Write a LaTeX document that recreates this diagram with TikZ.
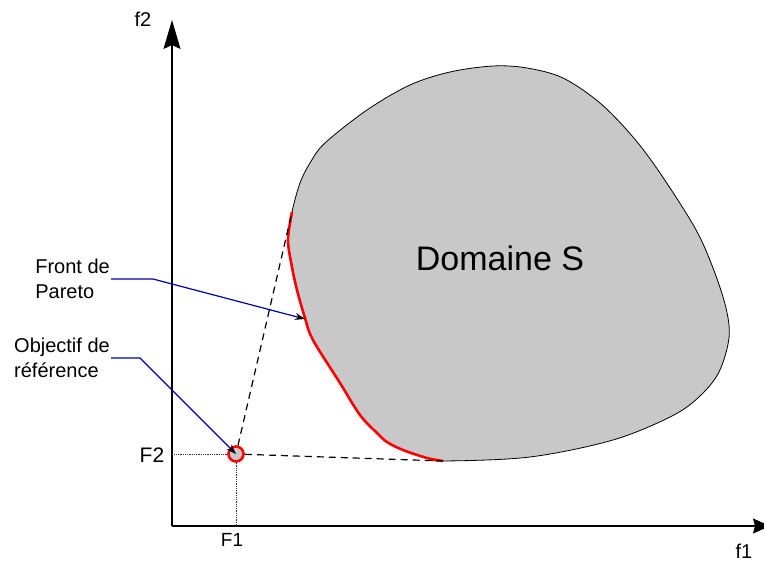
\documentclass[tikz,border=0pt]{standalone}
\usepackage{fontspec}
\setmainfont{Liberation Sans}
\usetikzlibrary{arrows.meta, positioning}
\definecolor{domgray}{RGB}{200,200,200}
\definecolor{lblue}{RGB}{0,0,170}

\begin{document}
\begin{tikzpicture}[
    x=1pt, y=-1pt,
    >=Stealth,
    axis/.style={line width=1.4pt, -{Stealth[length=29pt, width=17pt, inset=4pt]}},
    xaxis/.style={line width=1.4pt, -{Stealth[length=17pt, width=15pt, inset=2pt]}},
    guide/.style={densely dotted, line width=0.8pt, black!80},
    link/.style={dashed, dash pattern=on 7pt off 5pt, line width=1.2pt},
    callout/.style={draw=lblue, line width=1.2pt, -{Stealth[black, length=10pt, width=7pt]}},
    refpt/.style={circle, draw=red, fill=domgray, line width=2.6pt, minimum size=15pt, inner sep=0pt},
    lbl/.style={font=\fontsize{20}{25}\selectfont, inner sep=1pt},
    note/.style={lbl, align=left, anchor=east}
]
\clip (0,0) rectangle (764,561);

% domaine S
\filldraw[fill=domgray, draw=black, line width=0.8pt] plot[smooth cycle, tension=0.55] coordinates {
  (292,212) (300,183) (310,163) (325,143) (367,110) (410,85) (450,72)
  (493,66) (527,68) (563,78) (600,103) (633,137) (660,173) (695,228) (713,268)
  (726,308) (729,338) (719,372) (700,396) (672,416) (613,440) (530,457) (443,461)
  (427,458) (403,450) (387,442) (377,433) (360,415) (340,383) (313,340) (305,318)
  (297,290) (292,267) (288,240)};
% front de Pareto
\draw[red, line width=2.6pt] plot[smooth, tension=0.55] coordinates {
  (443,461) (427,458) (403,450) (387,442) (377,433) (360,415) (340,383) (313,340)
  (305,318) (297,290) (292,267) (288,240) (292,212)};
\node[font=\fontsize{34}{40}\selectfont] (dom) at (500,258) {Domaine S};

% axes
\coordinate (O) at (172,526);
\coordinate (xend) at (770,526);
\coordinate (yend) at (172,20);
\draw[xaxis] (O) -- (xend);
\draw[axis] (O) -- (yend);
\node[lbl] (f1) at (744,551) {f1};
\node[lbl] (f2) at (143,19) {f2};

% objectif de reference
\node[refpt] (ref) at (236,454) {};
\coordinate (ftop) at (292,212);
\coordinate (fbot) at (443,461);
\draw[link] (ref) -- (ftop);
\draw[link] (ref) -- (fbot);
\draw[guide] (ref.west) -- (ref.west -| O);
\draw[guide] (ref.south) -- (ref.south |- O);
\node[lbl, font=\fontsize{21}{25}\selectfont] (F2) at (152,455) {F2};
\node[lbl, font=\fontsize{19}{25}\selectfont] (F1) at (232,540) {F1};

% annotations
\node[note] (front) at (111,279) {Front de\\Pareto};
\node[note] (obj) at (111,358) {Objectif de\\référence};
\coordinate (fbend) at (153,279);
\coordinate (ftip) at (305,319);
\coordinate (obend) at (140,358);
\draw[callout] (front.east) -- (fbend) -- (ftip);
\draw[callout] (obj.east) -- (obend) -- (ref.center);

\end{tikzpicture}
\end{document}
